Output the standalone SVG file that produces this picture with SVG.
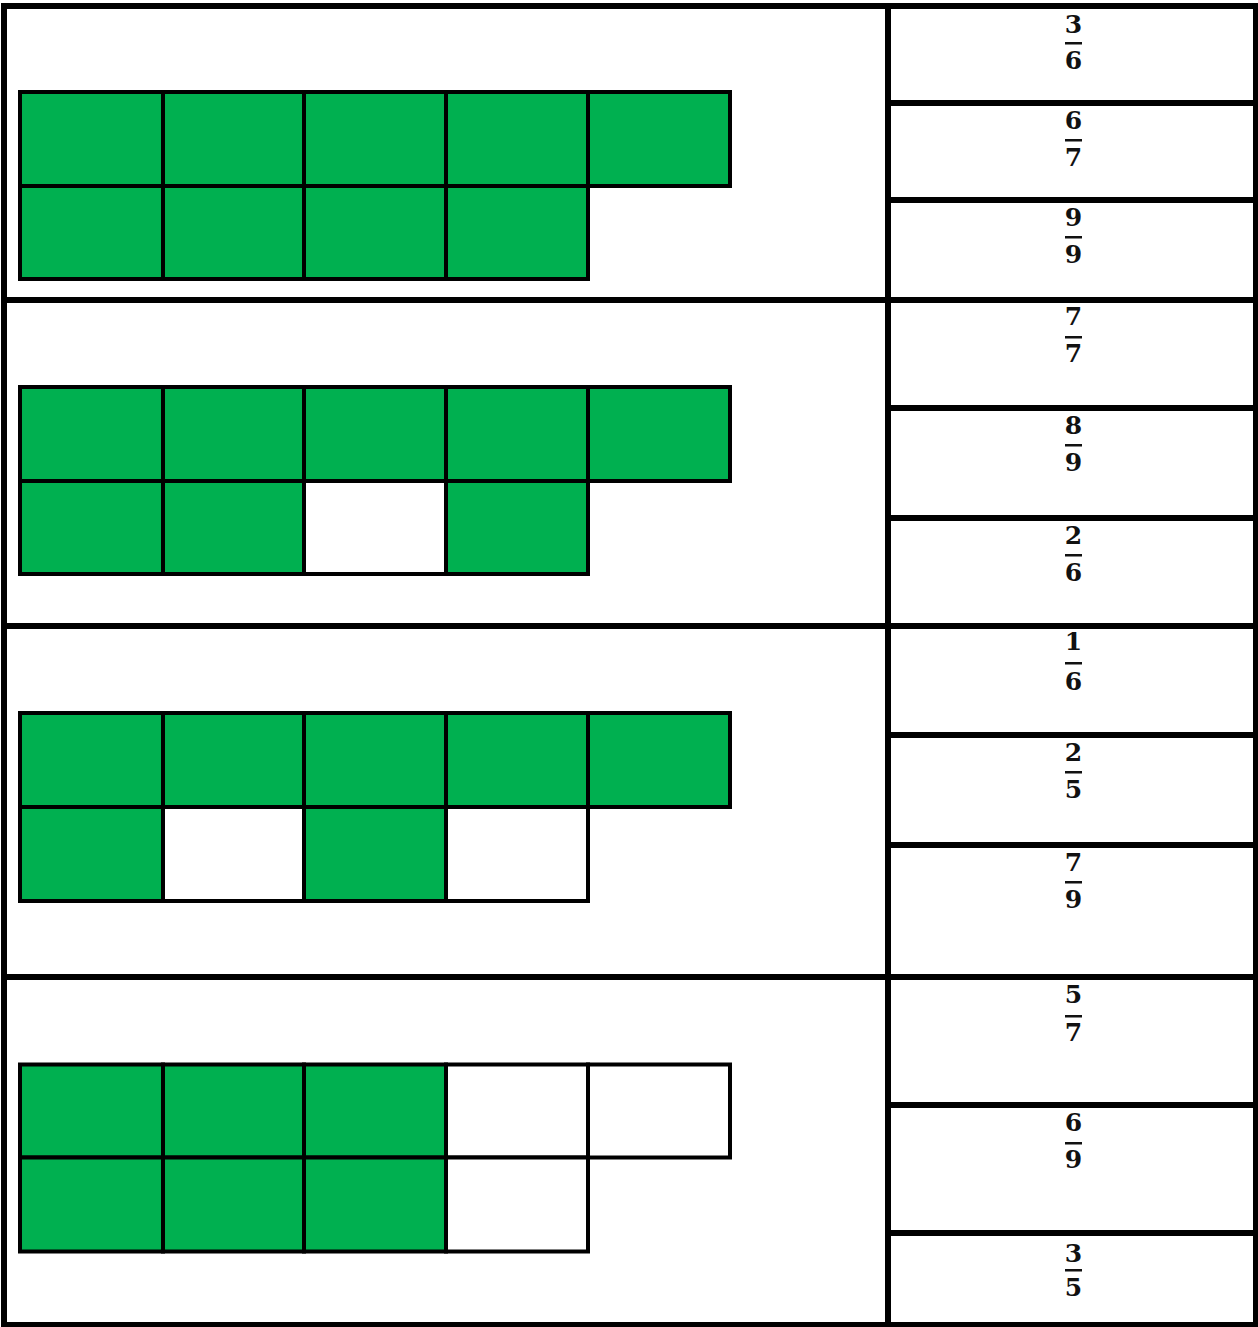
<svg xmlns="http://www.w3.org/2000/svg" width="1258" height="1327" viewBox="0 0 1258 1327">
<style>
.frame{stroke:#000;stroke-width:6;fill:none}
.g{fill:#00B050;stroke:#000;stroke-width:4}
.w{fill:#fff;stroke:#000;stroke-width:4}
.t{font-family:"DejaVu Serif","Liberation Serif",serif;font-weight:bold;font-size:25px;fill:#111;text-anchor:middle}
.bar{fill:#111}
</style>
<rect width="1258" height="1327" fill="#fff"/>

<g id="table">
<rect class="frame" x="4" y="6" width="1252" height="1319"/>
<line class="frame" x1="888" y1="6" x2="888" y2="1325"/>
<line class="frame" x1="1" y1="300" x2="1258" y2="300"/>
<line class="frame" x1="1" y1="626" x2="1258" y2="626"/>
<line class="frame" x1="1" y1="977" x2="1258" y2="977"/>
<line class="frame" x1="888" y1="103" x2="1258" y2="103"/>
<line class="frame" x1="888" y1="200" x2="1258" y2="200"/>
<line class="frame" x1="888" y1="408" x2="1258" y2="408"/>
<line class="frame" x1="888" y1="518" x2="1258" y2="518"/>
<line class="frame" x1="888" y1="735" x2="1258" y2="735"/>
<line class="frame" x1="888" y1="845" x2="1258" y2="845"/>
<line class="frame" x1="888" y1="1105" x2="1258" y2="1105"/>
<line class="frame" x1="888" y1="1233" x2="1258" y2="1233"/>
</g>

<g id="grid1">
<rect class="g" x="20" y="92" width="143" height="94"/>
<rect class="g" x="163" y="92" width="141" height="94"/>
<rect class="g" x="304" y="92" width="142" height="94"/>
<rect class="g" x="446" y="92" width="142" height="94"/>
<rect class="g" x="588" y="92" width="142" height="94"/>
<rect class="g" x="20" y="186" width="143" height="93"/>
<rect class="g" x="163" y="186" width="141" height="93"/>
<rect class="g" x="304" y="186" width="142" height="93"/>
<rect class="g" x="446" y="186" width="142" height="93"/>
</g>

<g id="grid2">
<rect class="g" x="20" y="387" width="143" height="94"/>
<rect class="g" x="163" y="387" width="141" height="94"/>
<rect class="g" x="304" y="387" width="142" height="94"/>
<rect class="g" x="446" y="387" width="142" height="94"/>
<rect class="g" x="588" y="387" width="142" height="94"/>
<rect class="g" x="20" y="481" width="143" height="93"/>
<rect class="g" x="163" y="481" width="141" height="93"/>
<rect class="w" x="304" y="481" width="142" height="93"/>
<rect class="g" x="446" y="481" width="142" height="93"/>
</g>

<g id="grid3">
<rect class="g" x="20" y="713" width="143" height="94"/>
<rect class="g" x="163" y="713" width="141" height="94"/>
<rect class="g" x="304" y="713" width="142" height="94"/>
<rect class="g" x="446" y="713" width="142" height="94"/>
<rect class="g" x="588" y="713" width="142" height="94"/>
<rect class="g" x="20" y="807" width="143" height="94"/>
<rect class="w" x="163" y="807" width="141" height="94"/>
<rect class="g" x="304" y="807" width="142" height="94"/>
<rect class="w" x="446" y="807" width="142" height="94"/>
</g>

<g id="grid4">
<rect class="g" x="20" y="1064.5" width="143" height="93"/>
<rect class="g" x="163" y="1064.5" width="141" height="93"/>
<rect class="g" x="304" y="1064.5" width="142" height="93"/>
<rect class="w" x="446" y="1064.5" width="142" height="93"/>
<rect class="w" x="588" y="1064.5" width="142" height="93"/>
<rect class="g" x="20" y="1157.5" width="143" height="94"/>
<rect class="g" x="163" y="1157.5" width="141" height="94"/>
<rect class="g" x="304" y="1157.5" width="142" height="94"/>
<rect class="w" x="446" y="1157.5" width="142" height="94"/>
</g>

<g id="f1a"><text class="t" x="1073.5" y="33">3</text><rect class="bar" x="1065" y="42" width="17" height="2.5"/><text class="t" x="1073.5" y="69">6</text></g>
<g id="f1b"><text class="t" x="1073.5" y="129">6</text><rect class="bar" x="1065" y="139" width="17" height="2.5"/><text class="t" x="1073.5" y="166">7</text></g>
<g id="f1c"><text class="t" x="1073.5" y="226">9</text><rect class="bar" x="1065" y="236" width="17" height="2.5"/><text class="t" x="1073.5" y="263">9</text></g>

<g id="f2a"><text class="t" x="1073.5" y="325">7</text><rect class="bar" x="1065" y="336" width="17" height="2.5"/><text class="t" x="1073.5" y="362">7</text></g>
<g id="f2b"><text class="t" x="1073.5" y="434">8</text><rect class="bar" x="1065" y="444" width="17" height="2.5"/><text class="t" x="1073.5" y="471">9</text></g>
<g id="f2c"><text class="t" x="1073.5" y="544">2</text><rect class="bar" x="1065" y="554" width="17" height="2.5"/><text class="t" x="1073.5" y="581">6</text></g>

<g id="f3a"><text class="t" x="1073.5" y="650">1</text><rect class="bar" x="1065" y="662" width="17" height="2.5"/><text class="t" x="1073.5" y="690">6</text></g>
<g id="f3b"><text class="t" x="1073.5" y="761">2</text><rect class="bar" x="1065" y="771" width="17" height="2.5"/><text class="t" x="1073.5" y="798">5</text></g>
<g id="f3c"><text class="t" x="1073.5" y="871">7</text><rect class="bar" x="1065" y="881" width="17" height="2.5"/><text class="t" x="1073.5" y="908">9</text></g>

<g id="f4a"><text class="t" x="1073.5" y="1003">5</text><rect class="bar" x="1065" y="1015" width="17" height="2.5"/><text class="t" x="1073.5" y="1041">7</text></g>
<g id="f4b"><text class="t" x="1073.5" y="1131">6</text><rect class="bar" x="1065" y="1142" width="17" height="2.5"/><text class="t" x="1073.5" y="1168">9</text></g>
<g id="f4c"><text class="t" x="1073.5" y="1262">3</text><rect class="bar" x="1065" y="1269" width="17" height="2.5"/><text class="t" x="1073.5" y="1296">5</text></g>

<g id="connectors"/>
</svg>
